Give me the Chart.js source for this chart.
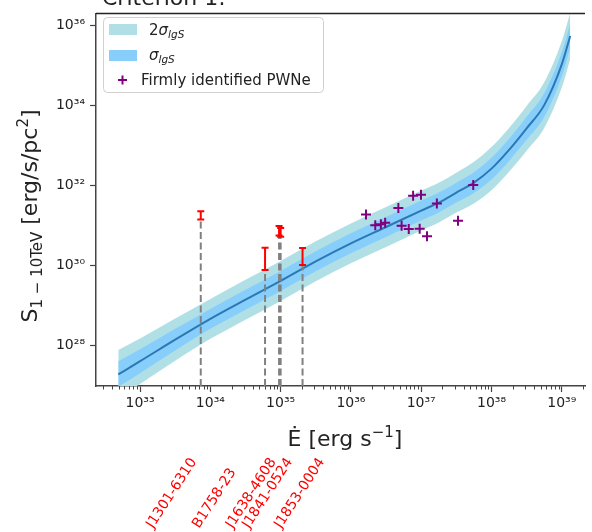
<!DOCTYPE html>
<html><head><meta charset="utf-8">
<script src="https://cdn.jsdelivr.net/npm/chart.js@4/dist/chart.umd.min.js"></script>
<style>html,body{margin:0;padding:0;background:#fff;overflow:hidden}#wrap{width:592px;height:532px}</style>
</head><body><div id="wrap"><canvas id="c" width="592" height="532"></canvas></div>
<script>
// ---- data (log10 values) ----
const curveLogEdot = [32.69, 33.0, 33.5, 34.0, 34.5, 35.0, 35.5, 36.0, 36.5, 37.0, 37.25, 37.5, 37.75, 38.0, 38.25, 38.5, 38.75, 39.0, 39.12];
const curveLogMedian = [27.27, 27.60, 28.14, 28.66, 29.14, 29.61, 30.10, 30.55, 30.96, 31.37, 31.57, 31.82, 32.07, 32.42, 32.89, 33.43, 34.01, 35.03, 35.74];
const curveLogHi1 = [27.60, 27.90, 28.41, 28.91, 29.39, 29.86, 30.35, 30.80, 31.21, 31.62, 31.82, 32.07, 32.33, 32.69, 33.17, 33.72, 34.31, 35.33, 36.04];
const curveLogLo1 = [26.96, 27.30, 27.87, 28.41, 28.89, 29.36, 29.85, 30.30, 30.71, 31.12, 31.32, 31.57, 31.81, 32.15, 32.61, 33.14, 33.71, 34.73, 35.44];
const curveLogHi2 = [27.88, 28.17, 28.67, 29.16, 29.64, 30.11, 30.60, 31.05, 31.46, 31.87, 32.07, 32.32, 32.59, 32.96, 33.44, 33.99, 34.58, 35.61, 36.32];
const curveLogLo2 = [26.68, 27.03, 27.61, 28.16, 28.64, 29.11, 29.60, 30.05, 30.46, 30.87, 31.07, 31.32, 31.55, 31.88, 32.34, 32.87, 33.44, 34.45, 35.16];

const pwneEdot = [1.64e36, 2.22e36, 2.67e36, 3.07e36, 4.73e36, 5.26e36, 6.65e36, 7.67e36, 9.93e36, 9.51e36, 1.21e37, 1.67e37, 3.34e37, 5.50e37];
const pwneFlux = [1.87e31, 1.01e31, 1.06e31, 1.16e31, 2.73e31, 9.75e30, 8.07e30, 5.55e31, 5.87e31, 8.20e30, 5.31e30, 3.51e31, 1.30e31, 1.02e32];

const psrNames = ['J1301-6310', 'B1758-23', 'J1638-4608', 'J1841-0524', 'J1853-0004'];
const psrEdot = [7.3e33, 6.0e34, 9.5e34, 1.0e35, 2.05e35];
const psrFluxLo = [1.41e31, 7.6e29, 5.6e30, 5.2e30, 1.02e30];
const psrFluxHi = [2.26e31, 2.75e30, 9.6e30, 8.6e30, 2.7e30];

const xTickExps = [33, 34, 35, 36, 37, 38, 39];
const yTickExps = [28, 30, 32, 34, 36];
const X_MIN = 2.36e32, X_MAX = 2.14e39, Y_MIN = 9.55e26, Y_MAX = 2.02e36;

// ---- styles ----
const C2 = '#b0e0e6', C1 = '#87cefa', CLINE = '#2a78b5', CPTS = '#800080', CRED = '#ff0000', CDASH = '#808080';
const FONT = "'DejaVu Sans'";
const SUP = {'0':'⁰','1':'¹','2':'²','3':'³','4':'⁴','5':'⁵','6':'⁶','7':'⁷','8':'⁸','9':'⁹'};
const pow10Label = e => '10' + String(e).split('').map(c => SUP[c]).join('');

const curve = arr => curveLogEdot.map((lx, i) => ({x: Math.pow(10, lx), y: Math.pow(10, arr[i])}));
const lineBase = {showLine: true, pointRadius: 0, borderWidth: 0, cubicInterpolationMode: 'monotone'};

const datasets = [
  Object.assign({label: '2σ hi', data: curve(curveLogHi2), fill: '+1', backgroundColor: C2, borderColor: C2, order: 10}, lineBase),
  Object.assign({label: '2σ lo', data: curve(curveLogLo2), fill: false, borderColor: C2, order: 10}, lineBase),
  Object.assign({label: 'σ hi', data: curve(curveLogHi1), fill: '+1', backgroundColor: C1, borderColor: C1, order: 9}, lineBase),
  Object.assign({label: 'σ lo', data: curve(curveLogLo1), fill: false, borderColor: C1, order: 9}, lineBase),
  Object.assign({}, lineBase, {label: 'median', data: curve(curveLogMedian), fill: false, borderColor: CLINE, borderWidth: 2, order: 8})
];
psrNames.forEach((n, i) => {
  datasets.push({label: n + ' line', data: [{x: psrEdot[i], y: Y_MIN}, {x: psrEdot[i], y: psrFluxLo[i]}],
    showLine: true, pointRadius: 0, borderColor: CDASH, borderWidth: 2, borderDash: [7, 3.5], order: 7});
  datasets.push({label: n, data: [{x: psrEdot[i], y: psrFluxLo[i]}, {x: psrEdot[i], y: psrFluxHi[i]}],
    showLine: true, borderColor: CRED, borderWidth: 2, pointStyle: 'line', pointRadius: 3.5,
    pointBorderWidth: 2, pointBorderColor: CRED, order: 6});
});
datasets.push({label: 'Firmly identified PWNe', data: pwneEdot.map((x, i) => ({x, y: pwneFlux[i]})),
  showLine: false, pointStyle: 'cross', pointRadius: 5, pointBorderWidth: 2, borderColor: CPTS, pointBorderColor: CPTS, order: 1});

function drawRich(ctx, parts, x, y, align) {
  let w = 0;
  parts.forEach(p => { ctx.font = (p.it ? 'italic ' : '') + p.s + 'px ' + FONT; p.w = ctx.measureText(p.t).width; w += p.w; });
  let cx = align === 'center' ? x - w / 2 : x;
  parts.forEach(p => { ctx.font = (p.it ? 'italic ' : '') + p.s + 'px ' + FONT; ctx.fillText(p.t, cx, y + (p.dy || 0)); cx += p.w; });
}

const decor = {
  id: 'decor',
  afterDraw(chart) {
    const ctx = chart.ctx, ca = chart.chartArea, xs = chart.scales.x;
    ctx.save();
    // top spine
    ctx.strokeStyle = '#222'; ctx.lineWidth = 1.5;
    ctx.beginPath(); ctx.moveTo(ca.left, ca.top); ctx.lineTo(ca.right, ca.top); ctx.stroke();
    // minor x ticks
    ctx.strokeStyle = '#444'; ctx.lineWidth = 1;
    for (let d = 32; d <= 39; d++) for (let k = 2; k <= 9; k++) {
      const v = k * Math.pow(10, d);
      if (v < X_MIN || v > X_MAX) continue;
      const px = Math.round(xs.getPixelForValue(v)) + 0.5;
      ctx.beginPath(); ctx.moveTo(px, ca.bottom); ctx.lineTo(px, ca.bottom + 3.5); ctx.stroke();
    }
    // legend
    ctx.fillStyle = 'rgba(255,255,255,0.85)'; ctx.strokeStyle = '#d0d0d0'; ctx.lineWidth = 1;
    ctx.beginPath(); ctx.roundRect(103.5, 17.5, 220, 75, 4); ctx.fill(); ctx.stroke();
    ctx.fillStyle = C2; ctx.fillRect(109, 24, 28, 11);
    ctx.fillStyle = C1; ctx.fillRect(109, 50, 28, 11);
    ctx.strokeStyle = CPTS; ctx.lineWidth = 2;
    ctx.beginPath(); ctx.moveTo(118, 80); ctx.lineTo(127, 80); ctx.moveTo(122.5, 75.5); ctx.lineTo(122.5, 84.5); ctx.stroke();
    ctx.fillStyle = '#222'; ctx.textBaseline = 'alphabetic'; ctx.textAlign = 'left';
    drawRich(ctx, [{t: '2', s: 15}, {t: 'σ', s: 15, it: true}, {t: 'lgS', s: 10.5, it: true, dy: 3}], 149, 35);
    drawRich(ctx, [{t: 'σ', s: 15, it: true}, {t: 'lgS', s: 10.5, it: true, dy: 3}], 149, 60);
    drawRich(ctx, [{t: 'Firmly identified PWNe', s: 15}], 141, 85);
    // title (cut at top)
    drawRich(ctx, [{t: 'Criterion 1:', s: 22}], 102, 5);
    // x title
    drawRich(ctx, [{t: 'Ė [erg s', s: 22}, {t: '−1', s: 15, dy: -9}, {t: ']', s: 22}], 345, 446, 'center');
    // y title
    ctx.save(); ctx.translate(37, 216); ctx.rotate(-Math.PI / 2);
    drawRich(ctx, [{t: 'S', s: 22}, {t: '1 − 10TeV', s: 15, dy: 5}, {t: ' [erg/s/pc', s: 22}, {t: '2', s: 15, dy: -9}, {t: ']', s: 22}], 0, 0, 'center');
    ctx.restore();
    // red pulsar labels
    const starts = [153, 199, 232.5, 249, 281];
    ctx.fillStyle = CRED; ctx.font = '14px ' + FONT;
    psrNames.forEach((n, i) => {
      ctx.save(); ctx.translate(starts[i], 529); ctx.rotate(-57 * Math.PI / 180);
      ctx.fillText(n, 0, 0); ctx.restore();
    });
    ctx.restore();
  }
};

new Chart(document.getElementById('c'), {
  type: 'scatter',
  data: {datasets},
  options: {
    responsive: false, animation: false, devicePixelRatio: 1,
    layout: {padding: {top: 11, left: 0, right: 0, bottom: 0}},
    plugins: {legend: {display: false}, tooltip: {enabled: false}, filler: {propagate: false}},
    scales: {
      x: {type: 'logarithmic', min: X_MIN, max: X_MAX,
        afterBuildTicks: s => { s.ticks = xTickExps.map(e => ({value: Math.pow(10, e)})); },
        afterFit: s => { s.height = 146; },
        ticks: {autoSkip: false, maxRotation: 0, padding: 3, color: '#222', font: {family: FONT, size: 14},
          callback: v => pow10Label(Math.round(Math.log10(v)))},
        grid: {drawOnChartArea: false, drawTicks: true, tickLength: 6, tickColor: '#444', tickWidth: 1.2},
        border: {display: true, color: '#444', width: 1.5}},
      y: {type: 'logarithmic', min: Y_MIN, max: Y_MAX,
        afterBuildTicks: s => { s.ticks = yTickExps.map(e => ({value: Math.pow(10, e)})); },
        afterFit: s => { s.width = 96; },
        ticks: {autoSkip: false, padding: 5, color: '#222', font: {family: FONT, size: 14},
          callback: v => pow10Label(Math.round(Math.log10(v)))},
        grid: {drawOnChartArea: false, drawTicks: true, tickLength: 6, tickColor: '#444', tickWidth: 1.2},
        border: {display: true, color: '#444', width: 1.5}}
    }
  },
  plugins: [decor]
});
</script></body></html>
